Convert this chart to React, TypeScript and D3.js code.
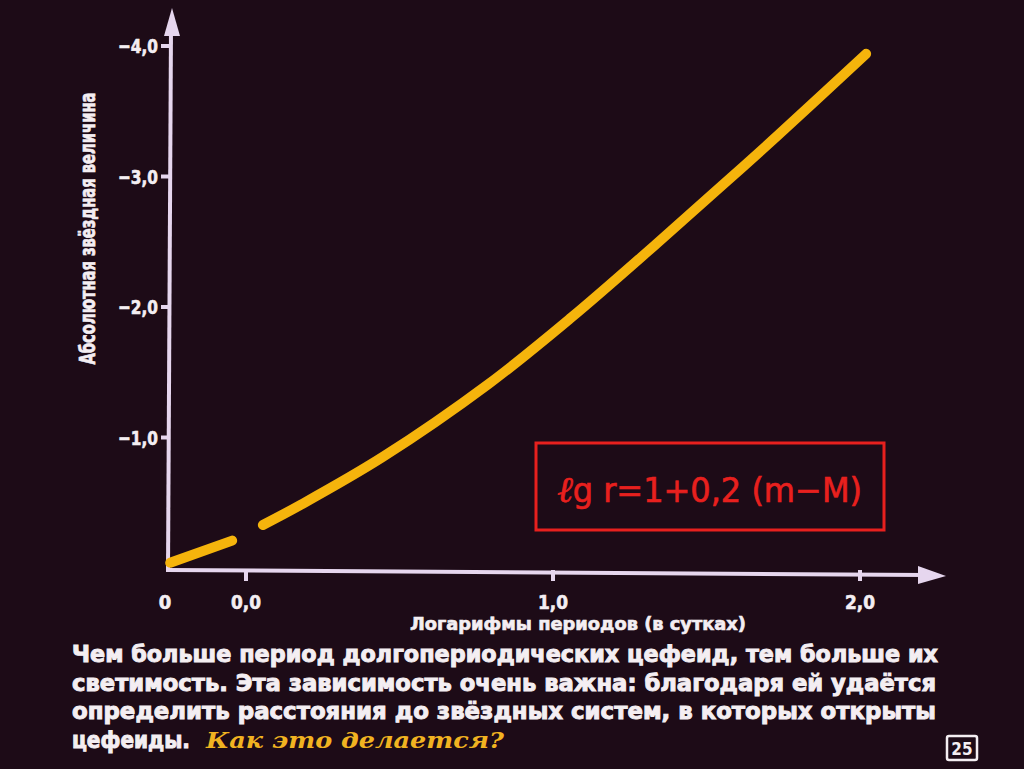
import React from "react";
import * as d3 from "d3";

const W = 1024;
const H = 769;

// data (log period in days, absolute magnitude)
const seg1X = [-0.247, -0.045];
const seg1Y = [-0.04, -0.21];
const seg2X = [0.055, 0.175, 0.445, 0.79, 1.06, 1.33, 1.555, 1.73, 2.02];
const seg2Y = [-0.33, -0.48, -0.85, -1.41, -1.92, -2.47, -2.94, -3.31, -3.94];

const yTicks = [-1, -2, -3, -4];
const yTickLabels = ["−1,0", "−2,0", "−3,0", "−4,0"];
const xTicks = [0, 1, 2];
const xTickLabels = ["0,0", "1,0", "2,0"];

const xAxisTitle = "Логарифмы периодов (в сутках)";
const yAxisTitle = "Абсолютная звёздная величина";
const bodyLines = [
  "Чем больше период долгопериодических цефеид, тем больше их",
  "светимость. Эта зависимость очень важна: благодаря ей удаётся",
  "определить расстояния до звёздных систем, в которых открыты",
];
const lastLinePlain = "цефеиды.";
const lastLineItalic = "Как это делается?";
const pageNumber = "25";

const BG = "#1d0b17";
const AXIS = "#e6d6ee";
const CURVE = "#f5b40c";
const RED = "#e8201e";
const TEXT = "#f4eef2";
const GOLD = "#f1b321";
const COND = "'Liberation Sans Narrow','DejaVu Sans Condensed','Roboto Condensed','Arial Narrow','DejaVu Sans',sans-serif";

export default function App() {
  const x = d3.scaleLinear().domain([0, 2]).range([246, 860]);
  const y = d3.scaleLinear().domain([0, -4]).range([568, 46]);
  const originX = 168;
  const originY = 570;

  const line = d3
    .line<[number, number]>()
    .x((d) => x(d[0]))
    .y((d) => y(d[1]))
    .curve(d3.curveCatmullRom.alpha(0.5));

  const s1 = line(seg1X.map((v, i) => [v, seg1Y[i]]) as [number, number][]) || "";
  const s2 = line(seg2X.map((v, i) => [v, seg2Y[i]]) as [number, number][]) || "";

  const bodyY = [662, 691, 719];

  return (
    <svg
      width={W}
      height={H}
      style={{ position: "absolute", left: 0, top: 0, background: BG }}
    >
      <rect x={0} y={0} width={W} height={H} fill={BG} />

      {/* y axis */}
      <line x1={originX} y1={originY + 2} x2={originX + 3} y2={28} stroke={AXIS} strokeWidth={4} />
      <path d={`M${originX + 4},8 L${originX - 4},36 L${originX + 12},36 Z`} fill={AXIS} />
      {yTicks.map((t, i) => (
        <g key={t}>
          <line x1={originX - 7} x2={originX + 1} y1={y(t)} y2={y(t)} stroke={AXIS} strokeWidth={4} />
          <text
            x={originX - 10}
            y={y(t) + 7}
            textAnchor="end"
            fill={TEXT}
            stroke={TEXT}
            strokeWidth={0.6}
            fontFamily={COND}
            fontWeight="bold"
            fontSize={20}
            textLength={40}
            lengthAdjust="spacingAndGlyphs"
          >
            {yTickLabels[i]}
          </text>
        </g>
      ))}
      <text
        transform={`translate(95,${(92 + 365) / 2}) rotate(-90)`}
        textAnchor="middle"
        fill={TEXT}
        stroke={TEXT}
        strokeWidth={0.7}
        fontFamily={COND}
        fontWeight="bold"
        fontSize={21}
        textLength={272}
        lengthAdjust="spacingAndGlyphs"
      >
        {yAxisTitle}
      </text>

      {/* x axis */}
      <line x1={originX - 2} y1={originY} x2={925} y2={575} stroke={AXIS} strokeWidth={4} />
      <path d={`M946,576 L918,566 L918,584 Z`} fill={AXIS} />
      {xTicks.map((t, i) => (
        <g key={t}>
          <line x1={x(t)} x2={x(t)} y1={originY} y2={originY + 11} stroke={AXIS} strokeWidth={4} />
          <text
            x={x(t)}
            y={609}
            textAnchor="middle"
            fill={TEXT}
            stroke={TEXT}
            strokeWidth={0.6}
            fontFamily={COND}
            fontWeight="bold"
            fontSize={20}
            textLength={30}
            lengthAdjust="spacingAndGlyphs"
          >
            {xTickLabels[i]}
          </text>
        </g>
      ))}
      <text x={165} y={609} textAnchor="middle" fill={TEXT} stroke={TEXT} strokeWidth={0.6} fontFamily={COND} fontWeight="bold" fontSize={20}>
        0
      </text>
      <text
        x={410}
        y={630}
        fill={TEXT}
        stroke={TEXT}
        strokeWidth={0.6}
        fontFamily={COND}
        fontWeight="bold"
        fontSize={18}
        textLength={336}
        lengthAdjust="spacingAndGlyphs"
      >
        {xAxisTitle}
      </text>

      {/* curve */}
      <path d={s1} fill="none" stroke={CURVE} strokeWidth={10} strokeLinecap="round" />
      <path d={s2} fill="none" stroke={CURVE} strokeWidth={10} strokeLinecap="round" />

      {/* formula box */}
      <rect x={536} y={443} width={348} height={87} fill="none" stroke={RED} strokeWidth={3} />
      <text x={557} y={502} fill={RED} stroke={RED} strokeWidth={0.6} fontFamily={COND} fontSize={34} textLength={305} lengthAdjust="spacingAndGlyphs">
        <tspan fontFamily="'DejaVu Serif',serif" fontStyle="italic" fontSize={36}>ℓ</tspan>
        <tspan>g r=1+0,2 (m−M)</tspan>
      </text>

      {/* body text */}
      {bodyLines.map((l, i) => (
        <text
          key={i}
          x={72}
          y={bodyY[i]}
          fill={TEXT}
          stroke={TEXT}
          strokeWidth={0.9}
          fontFamily={COND}
          fontWeight="bold"
          fontSize={23}
          textLength={i === 0 ? 866 : 864}
          lengthAdjust="spacingAndGlyphs"
        >
          {l}
        </text>
      ))}
      <text
        x={72}
        y={748}
        fill={TEXT}
        stroke={TEXT}
        strokeWidth={0.9}
        fontFamily={COND}
        fontWeight="bold"
        fontSize={23}
        textLength={118}
        lengthAdjust="spacingAndGlyphs"
      >
        {lastLinePlain}
      </text>
      <text
        x={206}
        y={748}
        fill={GOLD}
        fontFamily="'DejaVu Serif','Liberation Serif',serif"
        fontStyle="italic"
        fontWeight="bold"
        fontSize={23}
        textLength={298}
        lengthAdjust="spacingAndGlyphs"
      >
        {lastLineItalic}
      </text>

      {/* page number */}
      <rect x={947} y={736} width={30} height={24} fill="none" stroke={TEXT} strokeWidth={2.5} rx={2} />
      <text x={962} y={755} textAnchor="middle" fill={TEXT} fontFamily={COND} fontWeight="bold" fontSize={17}>
        {pageNumber}
      </text>
    </svg>
  );
}
